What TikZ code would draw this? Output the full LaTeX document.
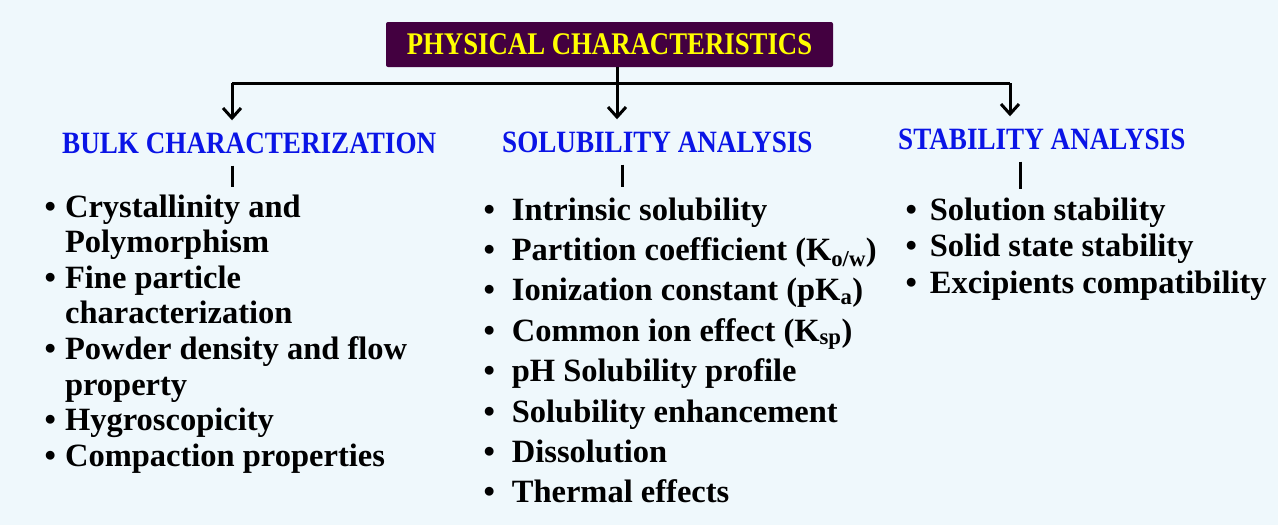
\documentclass[tikz,border=0pt]{standalone}
\usepackage{fontspec}
\setmainfont{Liberation Serif}
\newfontfamily\headfont[FakeStretch=0.875]{Liberation Serif}
\newfontfamily\titlefont[FakeStretch=0.85]{Liberation Serif}
\usetikzlibrary{arrows.meta}

\definecolor{pagebg}{RGB}{239,248,252}
\definecolor{titlepurple}{RGB}{67,0,64}
\definecolor{titleyellow}{RGB}{255,255,0}
\definecolor{headblue}{RGB}{10,20,230}

\tikzset{
  titlebox/.style={rectangle, rounded corners=2pt, fill=titlepurple, text=titleyellow,
    minimum width=447pt, minimum height=45pt, inner sep=0pt,
    font=\titlefont\bfseries\fontsize{31.5}{36}\selectfont},
  heading/.style={anchor=base west, inner sep=0pt, text=headblue,
    font=\headfont\bfseries\fontsize{31}{36}\selectfont},
  itemlist/.style={anchor=base west, inner sep=0pt,
    font=\bfseries\fontsize{32.5}{#1}\selectfont},
  link/.style={line width=3pt},
  drop/.style={link, -{Straight Barb[length=10pt,width=18pt]}, shorten >=12pt},
  tick/.style={link, shorten <=12pt, shorten >=5pt}
}

\begin{document}
\begin{tikzpicture}[x=1pt, y=-1pt]
    % Page background and size
    \fill[pagebg] (0,0) rectangle (1278,525);
    \useasboundingbox (0,0) rectangle (1278,525);

    % Title box
    \node[titlebox] (title) at (609.5,44.5) {PHYSICAL CHARACTERISTICS};

    % Drop points on the bus line and tick positions
    \coordinate (bulkdrop) at (232,83);
    \coordinate (soludrop) at (617,83);
    \coordinate (stabdrop) at (1010,83);
    \coordinate (bulktick) at (232,0);
    \coordinate (solutick) at (622,0);
    \coordinate (stabtick) at (1020,0);

    % Headings
    \node[heading] (bulk) at (62,153) {BULK CHARACTERIZATION};
    \node[heading] (solu) at (502,152) {SOLUBILITY ANALYSIS};
    \node[heading] (stab) at (898,149) {STABILITY ANALYSIS};

    % Bullet lists
    \node[itemlist=35.6] (bulklist) at (44.5,217) {\begin{tabular}[t]{@{}l@{\hspace{9pt}}l@{}}
        \textbullet & Crystallinity and\\
                    & Polymorphism\\
        \textbullet & Fine particle\\
                    & characterization\\
        \textbullet & Powder density and flow\\
                    & property\\
        \textbullet & Hygroscopicity\\
        \textbullet & Compaction properties
    \end{tabular}};
    \node[itemlist=40.4] (solulist) at (483.3,220) {\begin{tabular}[t]{@{}l@{\hspace{17pt}}l@{}}
        \textbullet & Intrinsic solubility\\
        \textbullet & Partition coefficient (K\textsubscript{o/w})\\
        \textbullet & Ionization constant (pK\textsubscript{a})\\
        \textbullet & Common ion effect (K\textsubscript{sp})\\
        \textbullet & pH Solubility profile\\
        \textbullet & Solubility enhancement\\
        \textbullet & Dissolution\\
        \textbullet & Thermal effects
    \end{tabular}};
    \node[itemlist=36.5] (stablist) at (905.3,220) {\begin{tabular}[t]{@{}l@{\hspace{13pt}}l@{}}
        \textbullet & Solution stability\\
        \textbullet & Solid state stability\\
        \textbullet & Excipients compatibility
    \end{tabular}};

    % Bus line and arrows
    \draw[link] (bulkdrop) -- (stabdrop);
    \draw[drop] (title.south -| soludrop) -- (soludrop |- solu.north);
    \draw[drop] (bulkdrop) -- (bulkdrop |- bulk.north);
    \draw[drop] (stabdrop) -- (stabdrop |- stab.north);

    % Short ticks from headings to lists
    \draw[tick] (bulktick |- bulk.south) -- (bulktick |- bulklist.north);
    \draw[tick] (solutick |- solu.south) -- (solutick |- solulist.north);
    \draw[tick] (stabtick |- stab.south) -- (stabtick |- stablist.north);
\end{tikzpicture}
\end{document}
